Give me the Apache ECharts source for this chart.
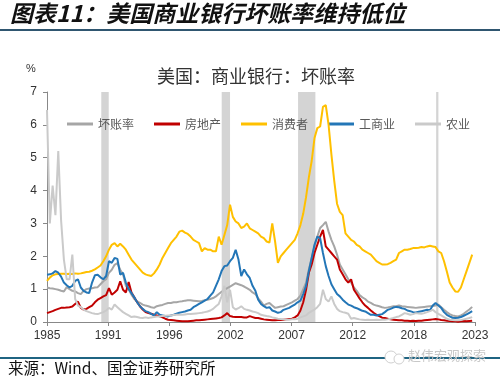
<!DOCTYPE html>
<html>
<head>
<meta charset="utf-8">
<script src="https://cdn.jsdelivr.net/npm/echarts@6/dist/echarts.min.js"></script>
<style>
html,body{margin:0;padding:0;background:#fff;}
#c{width:500px;height:381px;}
</style>
</head>
<body>
<div id="c"></div>
<script>
// Tick labels on the x axis (evenly spaced)
var tickLabels = ['1985','1991','1996','2002','2007','2012','2018','2023'];
// Quarterly data, 1985Q1 .. 2022Q4
var startYear = 1985;
var seriesNames = ['坏账率','房地产','消费者','工商业','农业'];
var totalRate = [
1.05,1.03,1.02,1.0, 0.98,0.95,0.93,1.06, 1.0,0.95,0.93,0.88, 0.85,0.95,1.0,1.02,
1.03,1.05,1.06,1.15, 1.24,1.3,1.5,1.59, 1.74,1.79,1.59,1.45, 1.1,1.0,0.83,0.7,
0.63,0.58,0.53,0.5, 0.48,0.45,0.43,0.48, 0.5,0.52,0.55,0.58, 0.58,0.6,0.6,0.62,
0.63,0.65,0.66,0.66, 0.65,0.64,0.63,0.64, 0.66,0.68,0.7,0.73, 0.78,0.85,0.92,0.98,
1.03,1.08,1.13,1.18, 1.15,1.12,1.08,1.03, 0.98,0.9,0.85,0.72, 0.62,0.5,0.55,0.58,
0.5,0.43,0.45,0.47, 0.48,0.52,0.56,0.6, 0.65,0.7,0.8,1.0, 1.2,1.6,1.95,2.3,
2.6,2.86,2.95,3.05, 2.75,2.5,2.3,2.05, 1.75,1.6,1.45,1.3, 1.2,1.05,0.95,0.82,
0.75,0.7,0.62,0.58, 0.53,0.5,0.48,0.45, 0.43,0.44,0.46,0.48, 0.48,0.5,0.48,0.47,
0.46,0.45,0.44,0.43, 0.44,0.45,0.46,0.47, 0.48,0.49,0.5,0.53, 0.45,0.37,0.3,0.24,
0.2,0.18,0.17,0.2, 0.25,0.32,0.38,0.46
];
var realEstate = [
0.27,0.3,0.33,0.37, 0.4,0.43,0.43,0.44, 0.45,0.47,0.55,0.62, 0.43,0.38,0.4,0.45,
0.5,0.6,0.68,0.73, 0.78,0.82,1.03,0.83, 0.9,0.98,1.24,0.98, 0.9,1.22,0.9,0.75,
0.6,0.48,0.38,0.3, 0.27,0.25,0.22,0.2, 0.17,0.14,0.1,0.07, 0.06,0.05,0.04,0.03,
0.02,0.02,0.02,0.03, 0.04,0.05,0.05,0.06, 0.07,0.08,0.09,0.1, 0.11,0.12,0.14,0.2,
0.27,0.18,0.16,0.15, 0.15,0.15,0.14,0.14, 0.18,0.15,0.12,0.12, 0.1,0.08,0.07,0.06,
0.05,0.05,0.06,0.06, 0.07,0.08,0.09,0.1, 0.14,0.2,0.35,0.6, 0.98,1.5,1.75,2.1,
2.35,2.6,2.8,2.3, 2.2,2.1,2.0,1.9, 1.6,1.45,1.3,1.2, 1.3,0.98,0.85,0.72,
0.6,0.5,0.43,0.35, 0.28,0.22,0.18,0.13, 0.12,0.1,0.08,0.07, 0.06,0.05,0.05,0.04,
0.04,0.03,0.04,0.03, 0.04,0.04,0.05,0.06, 0.07,0.08,0.09,0.08, 0.06,0.05,0.04,0.03,
0.02,0.02,0.01,0.02, 0.03,0.02,0.03,0.04
];
var consumer = [
1.25,1.35,1.42,1.45, 1.46,1.47,1.47,1.46, 1.47,1.46,1.48,1.47, 1.48,1.5,1.52,1.53,
1.56,1.6,1.66,1.72, 1.85,2.0,2.2,2.35, 2.4,2.3,2.38,2.3, 2.2,2.05,1.9,1.8,
1.7,1.6,1.5,1.45, 1.42,1.4,1.48,1.6, 1.75,1.95,2.1,2.25, 2.4,2.5,2.6,2.75,
2.78,2.72,2.68,2.6, 2.5,2.45,2.4,2.15, 2.25,2.2,2.2,2.15, 2.15,2.6,2.35,2.65,
2.95,3.57,3.2,3.06, 3.0,2.86,2.9,3.0, 2.85,2.8,2.75,2.7, 2.6,2.55,2.45,2.42,
3.0,2.45,1.8,2.0, 2.1,2.2,2.3,2.4, 2.5,2.7,2.95,3.3, 3.8,4.4,4.9,5.6,
5.9,5.95,6.55,6.6, 6.0,5.1,4.3,3.6, 3.35,3.25,2.7,2.6, 2.5,2.45,2.35,2.3,
2.2,2.15,2.1,2.05, 1.95,1.85,1.8,1.75, 1.75,1.76,1.8,1.85, 1.9,2.1,2.15,2.2,
2.2,2.22,2.25,2.25, 2.26,2.28,2.27,2.3, 2.32,2.3,2.28,2.15, 2.1,1.85,1.54,1.2,
1.05,0.93,0.92,1.05, 1.3,1.55,1.8,2.05
];
var commercial = [
1.44,1.45,1.48,1.55, 1.5,1.38,1.2,1.12, 1.05,1.1,1.25,1.3, 1.05,0.95,0.9,0.88,
1.2,1.42,1.44,1.36, 1.3,1.4,1.85,1.8, 1.95,1.92,1.44,1.5, 1.2,1.0,0.88,0.75,
0.6,0.48,0.4,0.33, 0.3,0.25,0.2,0.3, 0.22,0.2,0.18,0.17, 0.2,0.22,0.25,0.28,
0.3,0.32,0.35,0.37, 0.45,0.5,0.55,0.6, 0.65,0.7,0.8,0.9, 1.1,1.3,1.55,1.7,
1.72,1.85,1.95,2.2, 1.9,1.4,1.6,1.45, 1.34,1.1,0.95,0.68, 0.55,0.48,0.43,0.45,
0.35,0.32,0.28,0.3, 0.37,0.4,0.43,0.48, 0.53,0.6,0.65,0.85, 1.1,1.55,1.95,2.35,
2.6,2.55,2.1,1.7, 1.4,1.15,1.0,0.85, 0.78,0.68,0.6,0.53, 0.5,0.45,0.42,0.38,
0.34,0.32,0.27,0.22, 0.22,0.2,0.22,0.24, 0.3,0.37,0.4,0.44, 0.46,0.45,0.42,0.4,
0.35,0.33,0.3,0.29, 0.31,0.33,0.35,0.37, 0.36,0.5,0.58,0.5, 0.43,0.3,0.22,0.17,
0.13,0.12,0.13,0.15, 0.19,0.23,0.28,0.33
];
var agriculture = [
6.45,3.0,4.15,3.25, 5.2,3.1,1.9,1.3, 1.3,2.05,0.7,0.5, 0.45,0.38,0.33,0.3,
0.27,0.25,0.24,0.27, 0.3,0.35,0.43,0.38, 0.53,0.45,0.37,0.3, 0.25,0.2,0.15,0.17,
0.15,0.13,0.12,0.14, 0.12,0.14,0.15,0.17, 0.17,0.18,0.19,0.2, 0.2,0.21,0.22,0.22,
0.22,0.23,0.24,0.24, 0.25,0.26,0.27,0.28, 0.3,0.32,0.35,0.4, 0.48,0.55,0.78,1.1,
0.6,0.98,0.45,0.38, 0.42,0.48,0.4,0.37, 0.35,0.32,0.3,0.27, 0.22,0.2,0.18,0.17,
0.14,0.12,0.1,0.09, 0.08,0.07,0.07,0.08, 0.08,0.1,0.14,0.17, 0.2,0.28,0.33,0.38,
0.45,0.55,0.98,0.7, 0.62,0.78,0.55,0.4, 0.33,0.3,0.28,0.25, 0.1,0.12,0.1,0.08,
0.07,0.06,0.07,0.06, 0.06,0.07,0.06,0.07, 0.07,0.08,0.1,0.12, 0.15,0.17,0.22,0.27,
0.25,0.22,0.24,0.27, 0.26,0.25,0.27,0.3, 0.33,0.37,0.3,0.25, 0.2,0.15,0.1,0.07,
0.06,0.05,0.05,0.06, 0.08,0.1,0.12,0.15
];
// Shaded recession periods (in years, as placed on the chart)
var recessions = [[1989.82,1990.48],[2000.51,2001.25],[2007.29,2008.83],[2019.55,2019.75]];

var colors = ['#a6a6a6','#c00000','#ffc000','#2376b7','#cacaca'];
var allData = [totalRate, realEstate, consumer, commercial, agriculture];

function toPairs(arr){
  return arr.map(function(v,i){ return [startYear + i/4, v]; });
}

var chart = echarts.init(document.getElementById('c'), null, {renderer:'canvas'});
var cjk = '"Noto Sans CJK SC", sans-serif';

var series = seriesNames.map(function(n, k){
  return {
    name: n, type: 'line', xAxisIndex: 1, yAxisIndex: 0,
    data: toPairs(allData[k]), showSymbol: false, symbol: 'none',
    lineStyle: {width: 2, color: colors[k]}, itemStyle: {color: colors[k]},
    z: 3 + k, animation: false
  };
});
series.unshift({
  name: 'rec', type: 'line', xAxisIndex: 1, yAxisIndex: 0, data: [], silent: true,
  markArea: {
    silent: true,
    itemStyle: {color: '#d4d4d4'},
    data: recessions.map(function(r){ return [{xAxis: r[0], yAxis: 0}, {xAxis: r[1], yAxis: 7}]; })
  },
  z: 1, animation: false
});

chart.setOption({
  backgroundColor: '#fff',
  animation: false,
  textStyle: {fontFamily: cjk},
  grid: {left: 47, right: 25, top: 92, bottom: 59, containLabel: false},
  legend: {
    data: seriesNames,
    left: 62, top: 113,
    icon: 'rect', itemWidth: 26, itemHeight: 3, itemGap: 20,
    textStyle: {fontSize: 12, color: '#595959', fontFamily: cjk}
  },
  xAxis: [{
    type: 'category', data: tickLabels, boundaryGap: false,
    axisLine: {lineStyle: {color: '#888', width: 1}},
    axisTick: {show: true, length: 4, lineStyle: {color: '#888'}},
    axisLabel: {fontSize: 12, color: '#333', margin: 8, fontFamily: 'Arial, "Liberation Sans", sans-serif', interval: 0},
    splitLine: {show: false}
  },{
    type: 'value', min: 1985, max: 2023, show: false, splitLine: {show: false}
  }],
  yAxis: [{
    type: 'value', min: 0, max: 7, interval: 1,
    axisLine: {show: true, lineStyle: {color: '#888'}},
    axisTick: {show: true, length: 4, lineStyle: {color: '#888'}},
    axisLabel: {fontSize: 12, color: '#333', margin: 10, fontFamily: 'Arial, "Liberation Sans", sans-serif'},
    splitLine: {show: false}
  }],
  graphic: [
    {type: 'text', left: 10, top: 2, style: {text: '图表11：美国商业银行坏账率维持低位', font: 'italic bold 23px "Noto Sans CJK SC", sans-serif', fill: '#111'}},
    {type: 'rect', shape: {x: 0, y: 29, width: 500, height: 2}, style: {fill: '#2f5670'}},
    {type: 'text', left: 157, top: 67, style: {text: '美国：商业银行：坏账率', font: '18px "Noto Sans CJK SC", sans-serif', fill: '#333'}},
    {type: 'text', left: 26, top: 63, style: {text: '%', font: '11px Arial, "Liberation Sans", sans-serif', fill: '#333'}},
    {type: 'rect', shape: {x: 0, y: 357, width: 500, height: 2}, style: {fill: '#1f6482'}},
    {type: 'text', left: 8, top: 360, style: {text: '来源：Wind、国金证券研究所', font: '15.5px "Noto Sans CJK SC", sans-serif', fill: '#111'}},
    {type: 'circle', shape: {cx: 391, cy: 357, r: 6}, style: {fill: '#fff', stroke: '#d0d0d0', lineWidth: 1}},
    {type: 'circle', shape: {cx: 399, cy: 359, r: 5}, style: {fill: '#fff', stroke: '#d0d0d0', lineWidth: 1}},
    {type: 'text', left: 408, top: 349, style: {text: '赵伟宏观探索', font: '13px "Noto Sans CJK SC", sans-serif', fill: '#c8c8c8'}}
  ],
  series: series
});
</script>
</body>
</html>
